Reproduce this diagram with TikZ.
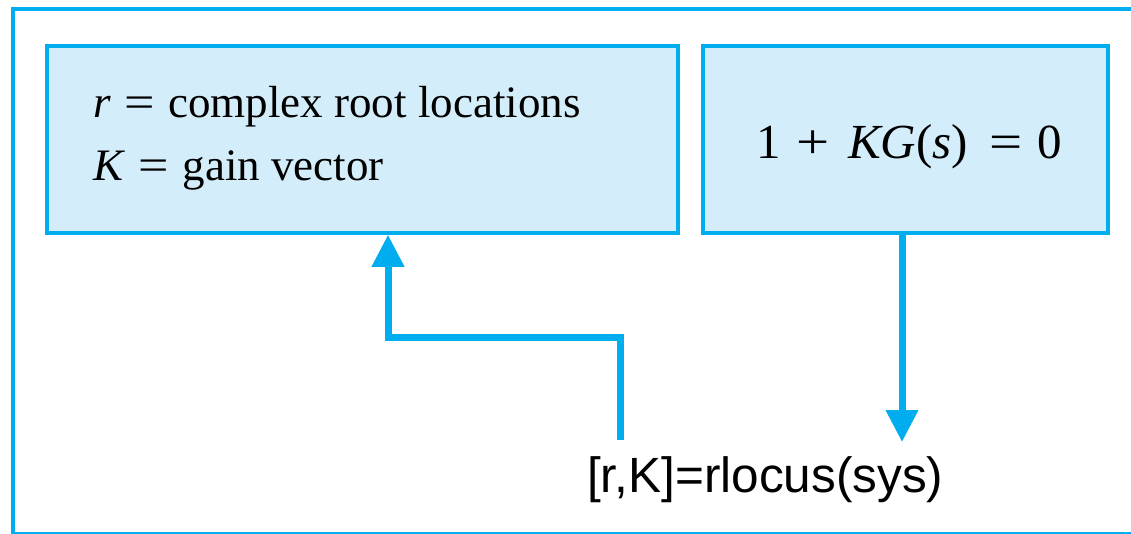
\documentclass[tikz,border=0pt]{standalone}
\usepackage{fontspec}
\usepackage{graphicx}
\setmainfont{Liberation Serif}
\newfontfamily\helv{Liberation Sans}
\usetikzlibrary{arrows.meta}
\definecolor{lineblue}{RGB}{0,174,239}
\definecolor{fillblue}{RGB}{212,237,250}
\newcommand{\wideeq}{\scalebox{1.2}[1]{=}}
\newcommand{\wideplus}{\scalebox{1.2}[1]{+}}
\tikzset{
  box/.style={draw=lineblue, fill=fillblue, line width=3.5pt, inner sep=0pt},
  arr/.style={draw=lineblue, line width=7pt, -{Triangle[width=31pt,length=32pt]}},
  frame/.style={draw=lineblue, line width=4pt},
  serif/.style={font=\fontsize{45}{52}\selectfont, inner sep=0pt},
  serifbig/.style={font=\fontsize{49}{56}\selectfont, inner sep=0pt},
  sans/.style={font=\helv\fontsize{49.5}{56}\selectfont, inner sep=0pt}
}
\begin{document}
\begin{tikzpicture}[x=1pt,y=-1pt]
\useasboundingbox (0,0) rectangle (1131,533);
\begin{scope}
\clip (0,0) rectangle (1131,533);
\draw[frame] (12.5,9) rectangle (1145,534);
\end{scope}
\node[box, minimum width=631pt, minimum height=187pt] (lbox) at (362.5,139.5) {};
\node[box, minimum width=405pt, minimum height=187pt] (rbox) at (905.5,139.5) {};
\node[serif, anchor=base west] (t1) at (93,117) {\textit{r}\hspace{0.3em}\wideeq\hspace{0.3em}complex root locations};
\node[serif, anchor=base west] (t2) at (93,180) {\textit{K}\hspace{0.3em}\wideeq\hspace{0.3em}gain vector};
\node[serifbig, anchor=base west] (t3) at (756,158) {1\hspace{0.32em}\wideplus\hspace{0.38em}\textit{KG}(\textit{s})\hspace{0.45em}\wideeq\hspace{0.3em}0};
\node[sans, anchor=base west] (cmd) at (587,492) {[r,K]=rlocus(sys)};
\coordinate (ax) at (388,0);
\coordinate (bx) at (902,0);
\coordinate (s1) at (620,440);
\coordinate (e2) at (902,442);
\draw[arr] (s1) |- (388,337) -- (lbox.south -| ax);
\draw[arr] (rbox.south -| bx) -- (e2);
\end{tikzpicture}
\end{document}
